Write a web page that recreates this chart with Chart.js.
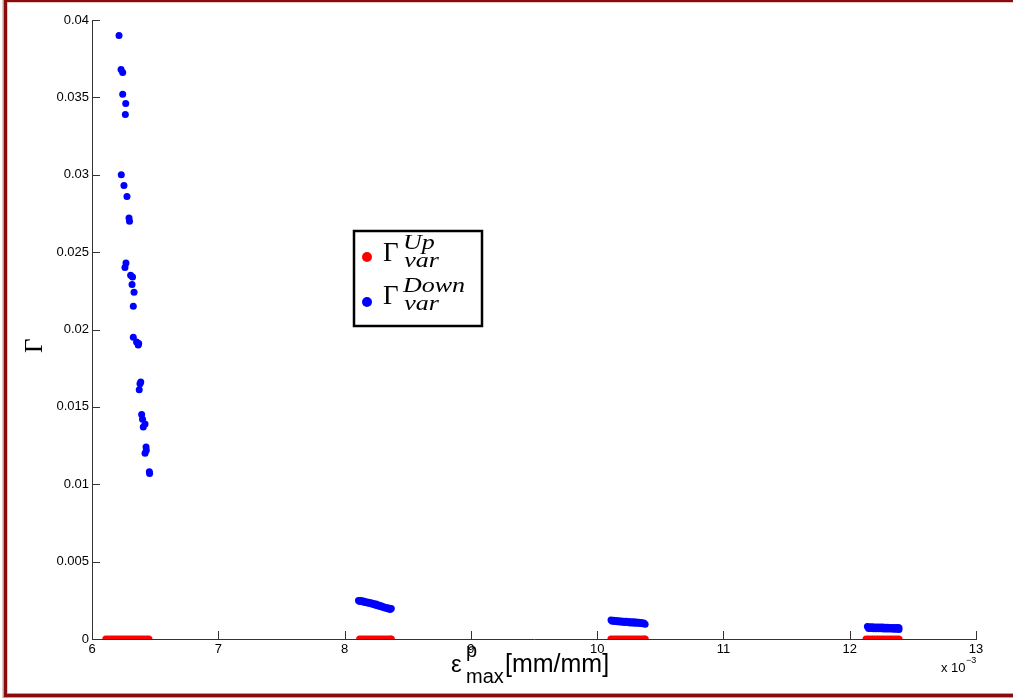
<!DOCTYPE html>
<html>
<head>
<meta charset="utf-8">
<script src="https://cdn.jsdelivr.net/npm/chart.js@4/dist/chart.umd.min.js"></script>
<style>
    html, body { margin: 0; padding: 0; background: #fff; }
    canvas { display: block; }
</style>
</head>
<body>
<canvas id="gamma" width="1013" height="700"></canvas>
<script>
// plastic strain values are in units of 1e-3 (axis shows "x 10^-3")
const upStrain = [
    6.11, 6.13, 6.15, 6.17, 6.19, 6.21, 6.23, 6.25, 6.27, 6.29, 6.31, 6.33, 6.35, 6.37, 6.39, 6.41, 6.43, 6.45,
    8.12, 8.14, 8.16, 8.18, 8.20, 8.22, 8.24, 8.26, 8.28, 8.30, 8.32, 8.34, 8.36, 8.37,
    10.11, 10.13, 10.15, 10.17, 10.19, 10.21, 10.23, 10.25, 10.27, 10.29, 10.31, 10.33, 10.35, 10.37, 10.38,
    12.13, 12.15, 12.17, 12.19, 12.21, 12.23, 12.25, 12.27, 12.29, 12.31, 12.33, 12.35, 12.37, 12.39,
];
const upGamma = [
    0, 0, 0, 0, 0, 0, 0, 0, 0, 0, 0, 0, 0, 0, 0, 0, 0, 0,
    0, 0, 0, 0, 0, 0, 0, 0, 0, 0, 0, 0, 0, 0,
    0, 0, 0, 0, 0, 0, 0, 0, 0, 0, 0, 0, 0, 0, 0,
    0, 0, 0, 0, 0, 0, 0, 0, 0, 0, 0, 0, 0, 0,
];
const downStrain = [
    6.214, 6.230, 6.243, 6.243, 6.267, 6.264, 6.232, 6.253, 6.277, 6.293, 6.297,
    6.269, 6.261, 6.306, 6.321, 6.317, 6.333, 6.327, 6.327, 6.353, 6.366, 6.370,
    6.380, 6.374, 6.386, 6.393, 6.400, 6.420, 6.406, 6.428, 6.420, 6.430, 6.454, 6.456,
    // second strain level, upper and lower edge of the band
    8.11, 8.13, 8.15, 8.17, 8.19, 8.21, 8.23, 8.25, 8.27, 8.29, 8.31, 8.33, 8.35, 8.37,
    8.12, 8.14, 8.16, 8.18, 8.20, 8.22, 8.24, 8.26, 8.28, 8.30, 8.32, 8.34, 8.36,
    10.11, 10.13, 10.15, 10.17, 10.19, 10.21, 10.23, 10.25, 10.27, 10.29, 10.31, 10.33, 10.35, 10.37,
    10.12, 10.14, 10.16, 10.18, 10.20, 10.22, 10.24, 10.26, 10.28, 10.30, 10.32, 10.34, 10.36, 10.38,
    12.14, 12.16, 12.18, 12.20, 12.22, 12.24, 12.26, 12.28, 12.30, 12.32, 12.34, 12.36, 12.38, 12.39,
    12.15, 12.17, 12.19, 12.21, 12.23, 12.25, 12.27, 12.29, 12.31, 12.33, 12.35, 12.37, 12.39,
];
const downGamma = [
    0.0390, 0.0368, 0.0366, 0.0352, 0.0346, 0.0339, 0.0300, 0.0293, 0.0286, 0.0272, 0.0270,
    0.0243, 0.0240, 0.0235, 0.0234, 0.0229, 0.0224, 0.0215, 0.0195, 0.0192, 0.0190, 0.0191,
    0.0165, 0.0161, 0.0166, 0.0145, 0.0142, 0.0139, 0.0137, 0.0124, 0.0120, 0.0122, 0.0108, 0.0107,
    0.00248, 0.00248, 0.00246, 0.00241, 0.00238, 0.00234, 0.00229, 0.00226, 0.00220, 0.00215, 0.00209, 0.00204, 0.00200, 0.00197,
    0.00242, 0.00241, 0.00236, 0.00232, 0.00229, 0.00224, 0.00220, 0.00215, 0.00210, 0.00205, 0.00200, 0.00195, 0.00191,
    0.00122, 0.00121, 0.00119, 0.00118, 0.00116, 0.00115, 0.00114, 0.00113, 0.00112, 0.00111, 0.00110, 0.00108, 0.00106, 0.00104,
    0.00114, 0.00113, 0.00111, 0.00110, 0.00108, 0.00107, 0.00106, 0.00104, 0.00103, 0.00102, 0.00101, 0.00100, 0.00098, 0.00096,
    0.00080, 0.00079, 0.00079, 0.00078, 0.00078, 0.00077, 0.00077, 0.00076, 0.00076, 0.00075, 0.00075, 0.00074, 0.00074, 0.00073,
    0.00068, 0.00068, 0.00067, 0.00067, 0.00066, 0.00066, 0.00065, 0.00065, 0.00064, 0.00064, 0.00063, 0.00063, 0.00062,
];
const xTicks = [6, 7, 8, 9, 10, 11, 12, 13];
const yTicks = [0, 0.005, 0.01, 0.015, 0.02, 0.025, 0.03, 0.035, 0.04];

const zip = (xs, ys) => xs.map((x, i) => ({ x, y: ys[i] }));
const SANS = 'Liberation Sans, Arial, Helvetica, sans-serif';
const SERIF = 'Liberation Serif, Times New Roman, serif';
const TICK_LEN = 8;

// white page with the dark red frame around the figure
const framePlugin = {
    id: 'frame',
    beforeDraw(chart) {
        const { ctx, width, height } = chart;
        ctx.save();
        ctx.fillStyle = '#fff';
        ctx.fillRect(0, 0, width, height);
        ctx.strokeStyle = 'rgba(140, 20, 20, 0.45)';
        ctx.lineWidth = 5;
        ctx.strokeRect(5, 0, width + 20, height - 4.5);
        ctx.strokeStyle = '#8a0b0b';
        ctx.lineWidth = 3;
        ctx.strokeRect(5.5, 0.5, width + 20, height - 5);
        ctx.restore();
    },
};

// matlab-style inward ticks, axis labels, exponent and legend
const decorPlugin = {
    id: 'decor',
    afterDraw(chart) {
        const { ctx, chartArea, scales } = chart;
        const { x, y } = scales;
        ctx.save();
        ctx.strokeStyle = '#333';
        ctx.lineWidth = 1;
        ctx.beginPath();
        xTicks.forEach((v) => {
            const px = Math.round(x.getPixelForValue(v)) + 0.5;
            ctx.moveTo(px, chartArea.bottom);
            ctx.lineTo(px, chartArea.bottom - TICK_LEN);
        });
        yTicks.forEach((v) => {
            const py = Math.round(y.getPixelForValue(v)) + 0.5;
            ctx.moveTo(chartArea.left, py);
            ctx.lineTo(chartArea.left + TICK_LEN, py);
        });
        ctx.stroke();

        ctx.fillStyle = '#000';
        ctx.textBaseline = 'alphabetic';
        ctx.textAlign = 'left';
        // x label: eps^p_max [mm/mm]
        ctx.font = '24px ' + SANS;
        ctx.fillText('ε', 451, 672);
        ctx.font = '20px ' + SANS;
        ctx.fillText('p', 466, 657);
        ctx.fillText('max', 466, 683);
        ctx.font = '25px ' + SANS;
        ctx.fillText('[mm/mm]', 505, 672);
        // exponent
        ctx.font = '13px ' + SANS;
        ctx.fillText('x 10', 941, 672);
        ctx.font = '9px ' + SANS;
        ctx.fillText('−3', 966, 663);

        // y label Gamma, rotated
        ctx.save();
        ctx.translate(42, 353);
        ctx.rotate(-Math.PI / 2);
        ctx.font = '25px ' + SERIF;
        ctx.fillText('Γ', 0, 0);
        ctx.restore();

        // legend
        ctx.fillStyle = '#fff';
        ctx.fillRect(354, 231, 128, 95);
        ctx.strokeStyle = '#000';
        ctx.lineWidth = 2.5;
        ctx.strokeRect(354, 231, 128, 95);
        const entries = [
            { ds: chart.data.datasets[0], cy: 257, sup: 'Up', base: 261 },
            { ds: chart.data.datasets[1], cy: 302, sup: 'Down', base: 304 },
        ];
        entries.forEach(({ ds, cy, sup, base }) => {
            ctx.fillStyle = ds.backgroundColor;
            ctx.beginPath();
            ctx.arc(367, cy, 5, 0, Math.PI * 2);
            ctx.fill();
            ctx.fillStyle = '#000';
            ctx.font = '27px ' + SERIF;
            ctx.fillText('Γ', 383, base);
            ctx.save();
            ctx.translate(403, base);
            ctx.scale(1.3, 1);
            ctx.font = 'italic 20px ' + SERIF;
            ctx.fillText(sup, 0, -12);
            ctx.fillText('var', 1, 6);
            ctx.restore();
        });
        ctx.restore();
    },
};

new Chart(document.getElementById('gamma'), {
    type: 'scatter',
    data: {
        datasets: [
            {
                label: 'Up',
                data: zip(upStrain, upGamma),
                backgroundColor: '#ff0000',
                borderWidth: 0,
                pointRadius: 3.6,
                order: 2,
            },
            {
                label: 'Down',
                data: zip(downStrain, downGamma),
                backgroundColor: '#0000ff',
                borderWidth: 0,
                pointRadius: 3.5,
                order: 1,
            },
        ],
    },
    options: {
        responsive: false,
        animation: false,
        layout: { padding: { left: 0, right: 37, top: 20, bottom: 0 } },
        plugins: {
            legend: { display: false },
            tooltip: { enabled: false },
        },
        scales: {
            x: {
                type: 'linear',
                min: 6,
                max: 13,
                afterBuildTicks: (s) => { s.ticks = xTicks.map((value) => ({ value })); },
                afterFit: (s) => { s.height = 61; },
                grid: { drawOnChartArea: false, drawTicks: false },
                border: { color: '#333', width: 1 },
                ticks: {
                    color: '#000',
                    padding: 3,
                    maxRotation: 0,
                    font: { size: 13, family: SANS },
                },
            },
            y: {
                type: 'linear',
                min: 0,
                max: 0.04,
                afterBuildTicks: (s) => { s.ticks = yTicks.map((value) => ({ value })); },
                afterFit: (s) => { s.width = 92; },
                grid: { drawOnChartArea: false, drawTicks: false },
                border: { color: '#333', width: 1 },
                ticks: {
                    color: '#000',
                    padding: 3,
                    font: { size: 13, family: SANS },
                    callback: (v) => String(parseFloat(Number(v).toFixed(3))),
                },
            },
        },
    },
    plugins: [framePlugin, decorPlugin],
});
</script>
</body>
</html>
